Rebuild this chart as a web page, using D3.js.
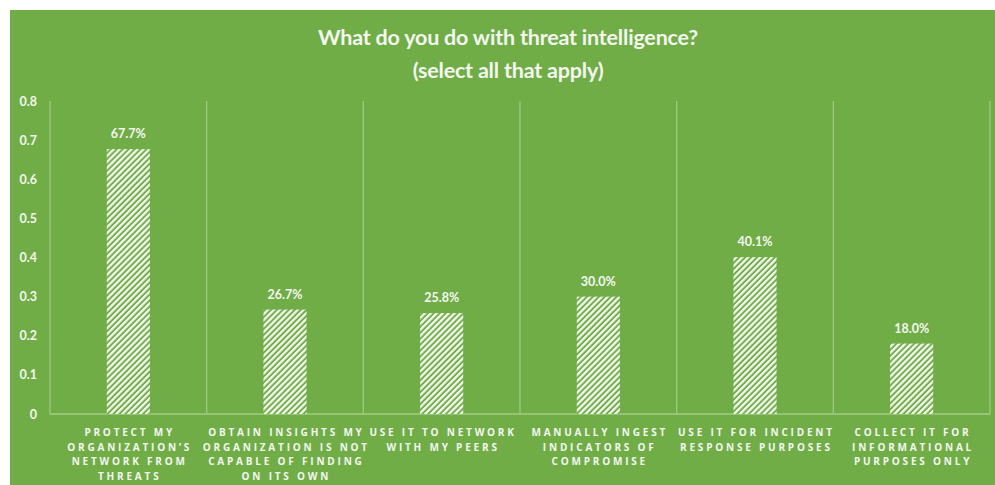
<!DOCTYPE html>
<html>
<head>
<meta charset="utf-8">
<script src="https://cdn.jsdelivr.net/npm/d3@7/dist/d3.min.js"></script>
<style>
  html, body { margin: 0; padding: 0; background: #ffffff; }
  svg { display: block; }
</style>
</head>
<body>
<svg id="chart" width="995" height="485"></svg>
<script>
// Survey answers and shares of respondents
const categories = [
  ["PROTECT MY", "ORGANIZATION\u2019S", "NETWORK FROM", "THREATS"],
  ["OBTAIN INSIGHTS MY", "ORGANIZATION IS NOT", "CAPABLE OF FINDING", "ON ITS OWN"],
  ["USE IT TO NETWORK", "WITH MY PEERS"],
  ["MANUALLY INGEST", "INDICATORS OF", "COMPROMISE"],
  ["USE IT FOR INCIDENT", "RESPONSE PURPOSES"],
  ["COLLECT IT FOR", "INFORMATIONAL", "PURPOSES ONLY"]
];
const values = [0.677, 0.267, 0.258, 0.300, 0.401, 0.180];
const valueLabels = ["67.7%", "26.7%", "25.8%", "30.0%", "40.1%", "18.0%"];
const yTicks = [0, 0.1, 0.2, 0.3, 0.4, 0.5, 0.6, 0.7, 0.8];
const titleLines = ["What do you do with threat intelligence?", "(select all that apply)"];

const GREEN = "#70ad47";
const TEXT = "#f4f7f0";
const GRID = "#a2cc85";

const svg = d3.select("#chart");
const W = 995, H = 485;
const margin = { left: 50, right: 5, top: 101, bottom: 71 };

// Green panel
svg.append("rect")
  .attr("x", 10).attr("y", 10)
  .attr("width", W - 10).attr("height", H - 10)
  .attr("fill", GREEN);

// Hatch fill for the bars
const defs = svg.append("defs");
const pat = defs.append("pattern")
  .attr("id", "hatch")
  .attr("patternUnits", "userSpaceOnUse")
  .attr("width", 4.2).attr("height", 4.2)
  .attr("patternTransform", "rotate(45)");
pat.append("rect").attr("width", 4.2).attr("height", 4.2).attr("fill", GREEN);
pat.append("rect").attr("x", 0).attr("y", 0).attr("width", 2.3).attr("height", 4.2).attr("fill", "#f3f8ef");

const x = d3.scaleBand()
  .domain(d3.range(categories.length))
  .range([margin.left, W - margin.right])
  .paddingInner(0).paddingOuter(0);

const y = d3.scaleLinear()
  .domain([0, 0.8])
  .range([H - margin.bottom, margin.top]);

// Category separators
const seps = d3.range(categories.length + 1).map(i => margin.left + i * x.step());
svg.append("g").selectAll("line")
  .data(seps)
  .join("line")
  .attr("x1", d => d).attr("x2", d => d)
  .attr("y1", y(0.8)).attr("y2", y(0))
  .attr("stroke", GRID).attr("stroke-width", 1.2);

// Baseline
svg.append("line")
  .attr("x1", margin.left).attr("x2", W - margin.right)
  .attr("y1", y(0)).attr("y2", y(0))
  .attr("stroke", GRID).attr("stroke-width", 1.4);

// Y axis labels
const yAxis = d3.axisLeft(y)
  .tickValues(yTicks)
  .tickSize(0)
  .tickPadding(0)
  .tickFormat(d => d === 0 ? "0" : d3.format(".1f")(d));
const gy = svg.append("g")
  .attr("transform", `translate(${margin.left - 13},0)`)
  .call(yAxis);
gy.select(".domain").remove();
gy.selectAll("text")
  .attr("fill", TEXT)
  .attr("font-family", "Lato, 'Open Sans', sans-serif")
  .attr("font-weight", "bold")
  .attr("font-size", 12.5);

// Bars
const barW = x.bandwidth() * 0.275;
svg.append("g").selectAll("rect")
  .data(values)
  .join("rect")
  .attr("x", (d, i) => x(i) + (x.bandwidth() - barW) / 2)
  .attr("y", d => y(d))
  .attr("width", barW)
  .attr("height", d => y(0) - y(d))
  .attr("fill", "url(#hatch)");

// Value labels
svg.append("g").selectAll("text")
  .data(values)
  .join("text")
  .attr("x", (d, i) => x(i) + x.bandwidth() / 2)
  .attr("y", d => y(d) - 11)
  .attr("text-anchor", "middle")
  .attr("fill", TEXT)
  .attr("font-family", "Lato, 'Open Sans', sans-serif")
  .attr("font-weight", "bold")
  .attr("font-size", 12.5)
  .text((d, i) => valueLabels[i]);

// Category labels
const catG = svg.append("g");
categories.forEach((lines, i) => {
  const t = catG.append("text")
    .attr("text-anchor", "middle")
    .attr("fill", TEXT)
    .attr("font-family", "'Open Sans', sans-serif")
    .attr("font-weight", "bold")
    .attr("font-size", 10)
    .attr("letter-spacing", "2.8px");
  lines.forEach((ln, j) => {
    t.append("tspan")
      .attr("x", x(i) + x.bandwidth() / 2 + 1.4)
      .attr("y", y(0) + 22 + j * 14.5)
      .text(ln);
  });
});

// Title
const title = svg.append("text")
  .attr("text-anchor", "middle")
  .attr("fill", TEXT)
  .attr("font-family", "Lato, 'Open Sans', sans-serif")
  .attr("font-weight", "bold")
  .attr("font-size", 21.5)
  .attr("letter-spacing", "-0.2px");
titleLines.forEach((ln, j) => {
  title.append("tspan")
    .attr("x", 508)
    .attr("y", 45 + j * 33)
    .text(ln);
});
</script>
</body>
</html>
